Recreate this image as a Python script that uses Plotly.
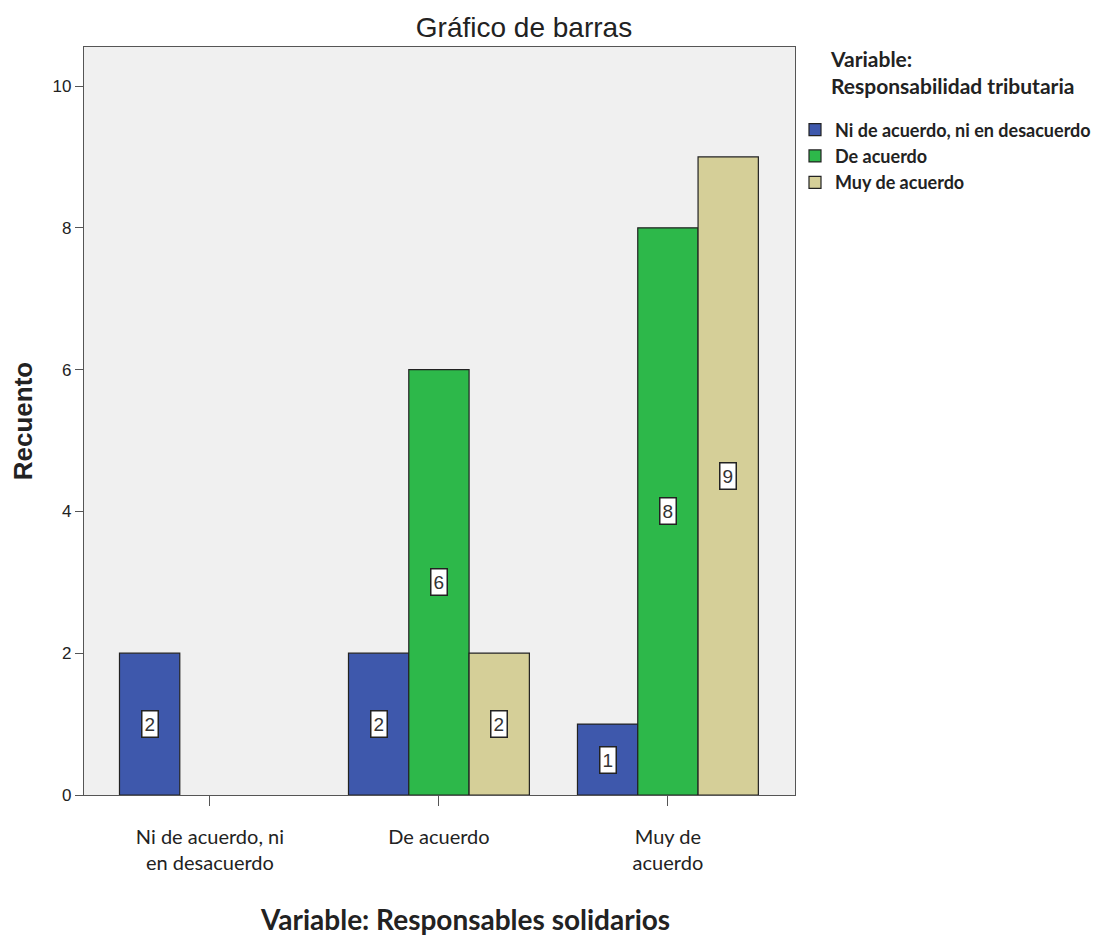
import plotly.graph_objects as go

categories = ["Ni de acuerdo, ni<br>en desacuerdo", "De acuerdo", "Muy de<br>acuerdo"]
series_names = ["Ni de acuerdo, ni en desacuerdo", "De acuerdo", "Muy de acuerdo"]
ni_values = [2, 2, 1]
de_values = [None, 6, 8]
muy_values = [None, 2, 9]
colors = ["#3E58AC", "#2DB84A", "#D5CF98"]
y_ticks = [0, 2, 4, 6, 8, 10]

FONT = "Lato"
W, H = 1100, 928
ML, MR, MT, MB = 76, 313, 39, 141
XR = [-0.55, 2.555]
BARGAP = 0.21

fig = go.Figure()
all_vals = [ni_values, de_values, muy_values]
for i, (name, vals) in enumerate(zip(series_names, all_vals)):
    fig.add_trace(go.Bar(
        x=categories, y=vals, name=name,
        marker=dict(color=colors[i], line=dict(color="#222222", width=1.2)),
        legendgroup=f"g{i}",
    ))

# value labels in white boxes at mid-bar
plot_w = W - ML - MR
plot_h = H - MT - MB
px_per_unit = plot_w / (XR[1] - XR[0])
bar_w = px_per_unit * (1 - BARGAP) / 3
for i, vals in enumerate(all_vals):
    for cat, v in zip(categories, vals):
        if v is None:
            continue
        fig.add_annotation(
            x=cat, y=v / 2, xref="x", yref="y", text=str(v), showarrow=False,
            xshift=(i - 1) * bar_w,
            font=dict(family="Arial", size=19, color="#333333"),
            bgcolor="white", bordercolor="#222222", borderwidth=1.5, borderpad=2,
        )

# legend heading
fig.add_annotation(
    x=(820 - ML) / plot_w, y=1.004, xref="paper", yref="paper",
    xanchor="left", yanchor="top", showarrow=False, align="left",
    text="<b>Variable:</b><br><b>Responsabilidad tributaria</b>",
    font=dict(family=FONT, size=21, color="#222222"),
)

# x-axis heading (slightly right of the plot centre, as in the original)
fig.add_annotation(
    x=(457 - ML) / plot_w, y=-(919 - 8 - (H - MB)) / plot_h, xref="paper", yref="paper",
    xanchor="center", yanchor="middle", showarrow=False,
    text="<b>Variable: Responsables solidarios</b>",
    font=dict(family=FONT, size=28, color="#222222"),
)

fig.update_layout(
    width=W, height=H,
    margin=dict(l=ML, r=MR, t=MT, b=MB),
    paper_bgcolor="white", plot_bgcolor="#F0F0F0",
    barmode="group", bargap=BARGAP, bargroupgap=0,
    title=dict(text="Gráfico de barras", x=(524 - 8) / W, xanchor="center",
               y=1 - 19 / H, yanchor="middle",
               font=dict(family="Arial", size=28, color="#222222")),
    showlegend=True,
    legend=dict(x=1.0, xanchor="left", y=0.914, yanchor="top",
                font=dict(family=FONT, size=18, color="#222222", weight="bold"),
                tracegroupgap=2, bgcolor="rgba(0,0,0,0)", traceorder="normal"),
    xaxis=dict(
        range=XR, showline=True, linecolor="#555555", linewidth=1.2, mirror=True,
        ticks="outside", ticklen=10, tickcolor="#555555",
        tickfont=dict(family=FONT, size=20, color="#222222"),
        ticklabelstandoff=14,
        showgrid=False,
    ),
    yaxis=dict(
        range=[0, 10.55], tickvals=y_ticks, showline=True, linecolor="#555555",
        linewidth=1.2, mirror=True, ticks="outside", ticklen=8, tickcolor="#555555",
        tickfont=dict(family="Arial", size=17, color="#222222"),
        title=dict(text="<b>Recuento</b>", font=dict(family="Arial", size=26, color="#222222"),
                   standoff=14),
        showgrid=False, zeroline=False,
    ),
)

fig.write_html("out.html")
